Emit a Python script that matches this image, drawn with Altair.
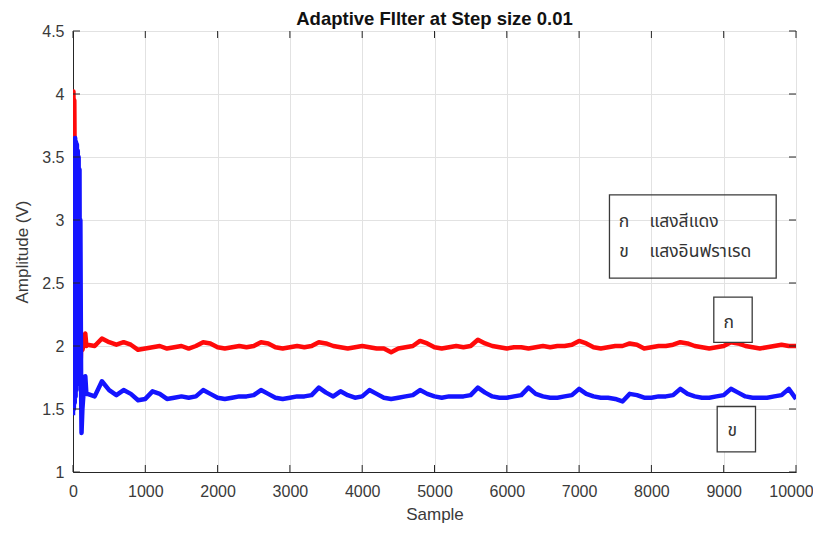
import altair as alt
import pandas as pd

# ---------------- data ----------------
# start-up transient (dense oscillation)
t_samples = [0, 6, 12, 18, 24, 30, 36, 42, 48, 54, 60, 66, 72, 78, 84, 90, 96, 102, 108, 113, 118, 130, 145, 160, 170, 185]
red_t = [3.55, 4.02, 3.6, 3.95, 3.4, 3.6, 3.1, 3.3, 2.9, 3.0, 2.6, 2.7, 2.3, 2.4, 2.1, 2.2, 1.86, 2.0, 1.9, 2.0, 2.05, 1.97, 2.0, 2.06, 2.10, 2.0]
blue_t = [1.45, 3.6, 1.5, 3.63, 1.55, 3.65, 1.6, 3.62, 1.65, 3.6, 1.7, 3.55, 1.8, 3.5, 1.85, 3.4, 1.9, 3.0, 2.2, 1.6, 1.31, 1.5, 1.62, 1.68, 1.76, 1.62]

# steady state, every 100 samples
s_samples = [
    200, 300, 400, 500, 600, 700, 800, 900, 1000, 1100,
    1200, 1300, 1400, 1500, 1600, 1700, 1800, 1900, 2000, 2100,
    2200, 2300, 2400, 2500, 2600, 2700, 2800, 2900, 3000, 3100,
    3200, 3300, 3400, 3500, 3600, 3700, 3800, 3900, 4000, 4100,
    4200, 4300, 4400, 4500, 4600, 4700, 4800, 4900, 5000, 5100,
    5200, 5300, 5400, 5500, 5600, 5700, 5800, 5900, 6000, 6100,
    6200, 6300, 6400, 6500, 6600, 6700, 6800, 6900, 7000, 7100,
    7200, 7300, 7400, 7500, 7600, 7700, 7800, 7900, 8000, 8100,
    8200, 8300, 8400, 8500, 8600, 8700, 8800, 8900, 9000, 9100,
    9200, 9300, 9400, 9500, 9600, 9700, 9800, 9900, 10000,
]
red_s = [
    2.01, 2.00, 2.06, 2.03, 2.01, 2.03, 2.01, 1.97, 1.98, 1.99,
    2.00, 1.98, 1.99, 2.00, 1.98, 2.00, 2.03, 2.02, 1.99, 1.98,
    1.99, 2.00, 1.99, 2.00, 2.03, 2.02, 1.99, 1.98, 1.99, 2.00,
    1.99, 2.00, 2.03, 2.02, 2.00, 1.99, 1.98, 1.99, 2.00, 1.99,
    1.98, 1.98, 1.95, 1.98, 1.99, 2.00, 2.04, 2.02, 1.99, 1.98,
    1.99, 2.00, 1.99, 2.00, 2.05, 2.02, 2.00, 1.99, 1.98, 1.99,
    1.99, 1.98, 1.99, 2.00, 1.99, 2.00, 2.00, 2.01, 2.04, 2.02,
    1.99, 1.98, 1.99, 2.00, 2.00, 2.02, 2.01, 1.98, 1.99, 2.00,
    2.00, 2.01, 2.03, 2.02, 2.00, 1.99, 1.98, 1.99, 2.00, 2.03,
    2.02, 2.00, 1.99, 1.98, 1.99, 2.00, 2.01, 2.00, 2.00,
]
blue_s = [
    1.62, 1.60, 1.72, 1.65, 1.61, 1.65, 1.62, 1.57, 1.58, 1.64,
    1.62, 1.58, 1.59, 1.60, 1.59, 1.60, 1.65, 1.62, 1.59, 1.58,
    1.59, 1.60, 1.60, 1.61, 1.65, 1.62, 1.59, 1.58, 1.59, 1.60,
    1.60, 1.61, 1.67, 1.63, 1.60, 1.64, 1.61, 1.59, 1.60, 1.65,
    1.62, 1.59, 1.58, 1.59, 1.60, 1.61, 1.65, 1.62, 1.60, 1.59,
    1.60, 1.60, 1.60, 1.61, 1.67, 1.63, 1.60, 1.59, 1.59, 1.60,
    1.61, 1.67, 1.62, 1.60, 1.59, 1.59, 1.60, 1.61, 1.66, 1.62,
    1.60, 1.59, 1.59, 1.58, 1.56, 1.62, 1.61, 1.59, 1.59, 1.60,
    1.60, 1.61, 1.66, 1.62, 1.60, 1.59, 1.59, 1.60, 1.61, 1.66,
    1.63, 1.60, 1.59, 1.59, 1.59, 1.60, 1.61, 1.66, 1.58,
]

x_ticks = [0, 1000, 2000, 3000, 4000, 5000, 6000, 7000, 8000, 9000, 10000]
y_ticks = [1, 1.5, 2, 2.5, 3, 3.5, 4, 4.5]

title_text = "Adaptive FIlter at Step size 0.01"
x_title = "Sample"
y_title = "Amplitude (V)"
legend_keys = ["ก", "ข"]
legend_names = ["แสงสีแดง", "แสงอินฟราเรด"]

# ---------------- chart ----------------
W, H = 723, 441
FONT = "Liberation Sans, Arial, Helvetica, sans-serif"
THAI = "Noto Sans Thai, Tahoma, Loma, Garuda, DejaVu Sans, sans-serif"
AX = "#262626"

samples = t_samples + s_samples
df_red = pd.DataFrame({"Sample": samples, "Amplitude": red_t + red_s})
df_blue = pd.DataFrame({"Sample": samples, "Amplitude": blue_t + blue_s})
df_xt = pd.DataFrame({"v": x_ticks})
df_yt = pd.DataFrame({"v": y_ticks})

xscale = alt.Scale(domain=[0, 10000], nice=False, zero=False)
yscale = alt.Scale(domain=[1, 4.5], nice=False, zero=False)

x_axis = alt.Axis(values=x_ticks, format="d", grid=True, gridColor="#e2e2e2",
                  tickSize=0, labelPadding=11, labelFont=FONT, labelFontSize=16,
                  labelColor="#3a3a3a", title=x_title, titleFont=FONT,
                  titleFontSize=17, titleFontWeight="normal", titleColor="#3a3a3a",
                  titlePadding=7, domainColor=AX, labelFlush=False,
                  labelOffset={"expr": "datum.value == 10000 ? -5 : 0"})
y_axis = alt.Axis(values=y_ticks, format="~g", grid=True, gridColor="#e2e2e2",
                  tickSize=0, labelPadding=9, labelFont=FONT, labelFontSize=16,
                  labelColor="#3a3a3a", title=y_title, titleFont=FONT,
                  titleFontSize=17, titleFontWeight="normal", titleColor="#3a3a3a",
                  titlePadding=10, domainColor=AX, labelFlush=False)

X = alt.X("Sample:Q", scale=xscale, axis=x_axis)
Y = alt.Y("Amplitude:Q", scale=yscale, axis=y_axis)

red_line = alt.Chart(df_red).mark_line(color="#ff0a0a", strokeWidth=4.5, clip=True,
                                       strokeJoin="round").encode(x=X, y=Y)
blue_line = alt.Chart(df_blue).mark_line(color="#1414ff", strokeWidth=4.5, clip=True,
                                         strokeJoin="round").encode(x=X, y=Y)

XT = alt.X("v:Q", scale=xscale, axis=x_axis)
YT = alt.Y("v:Q", scale=yscale, axis=y_axis)
tick_bottom = alt.Chart(df_xt).mark_rule(color=AX).encode(x=XT, y=alt.value(H), y2=alt.value(H - 7))
tick_top = alt.Chart(df_xt).mark_rule(color=AX).encode(x=XT, y=alt.value(0), y2=alt.value(7))
tick_left = alt.Chart(df_yt).mark_rule(color=AX).encode(y=YT, x=alt.value(0), x2=alt.value(7))
tick_right = alt.Chart(df_yt).mark_rule(color=AX).encode(y=YT, x=alt.value(W), x2=alt.value(W - 7))

base = alt.Chart(pd.DataFrame({"a": [0]}))

legend_box = base.mark_rect(fill=None, fillOpacity=0, stroke="#3a3a3a", strokeWidth=1.3).encode(
    x=alt.datum(7420), x2=alt.datum(9726), y=alt.datum(3.199), y2=alt.datum(2.538))
box_k = base.mark_rect(fill="white", stroke="#3a3a3a", strokeWidth=1.3).encode(
    x=alt.datum(8863), x2=alt.datum(9394), y=alt.datum(2.388), y2=alt.datum(2.028))
box_kh = base.mark_rect(fill="white", stroke="#3a3a3a", strokeWidth=1.3).encode(
    x=alt.datum(8910), x2=alt.datum(9440), y=alt.datum(1.520), y2=alt.datum(1.159))

def txt(t, xv, yv, align="center", size=17.5):
    return base.mark_text(text=t, font=THAI, fontSize=size, color="#333333",
                          align=align, baseline="middle").encode(x=alt.datum(xv), y=alt.datum(yv))

texts = [
    txt(legend_keys[0], 7620, 2.987),
    txt(legend_names[0], 7973, 2.987, align="left"),
    txt(legend_keys[1], 7620, 2.749),
    txt(legend_names[1], 7973, 2.749, align="left"),
    txt(legend_keys[0], 9070, 2.18),
    txt(legend_keys[1], 9117, 1.322),
]

title_mark = base.mark_text(text=title_text, font=FONT, fontSize=18.5, fontWeight="bold",
                            color="#111111", align="center", baseline="alphabetic").encode(
    x=alt.value(W / 2), y=alt.value(-6))

chart = alt.layer(
    red_line, blue_line, tick_bottom, tick_top, tick_left, tick_right,
    legend_box, box_k, box_kh, *texts, title_mark
).properties(
    width=W, height=H,
    autosize=alt.AutoSizeParams(type="none"),
    padding={"left": 65, "top": 23, "right": 17, "bottom": 53},
    background="white",
).configure_view(stroke=AX, strokeWidth=1)

chart.save("out.html", embed_options={"renderer": "svg", "actions": False})
